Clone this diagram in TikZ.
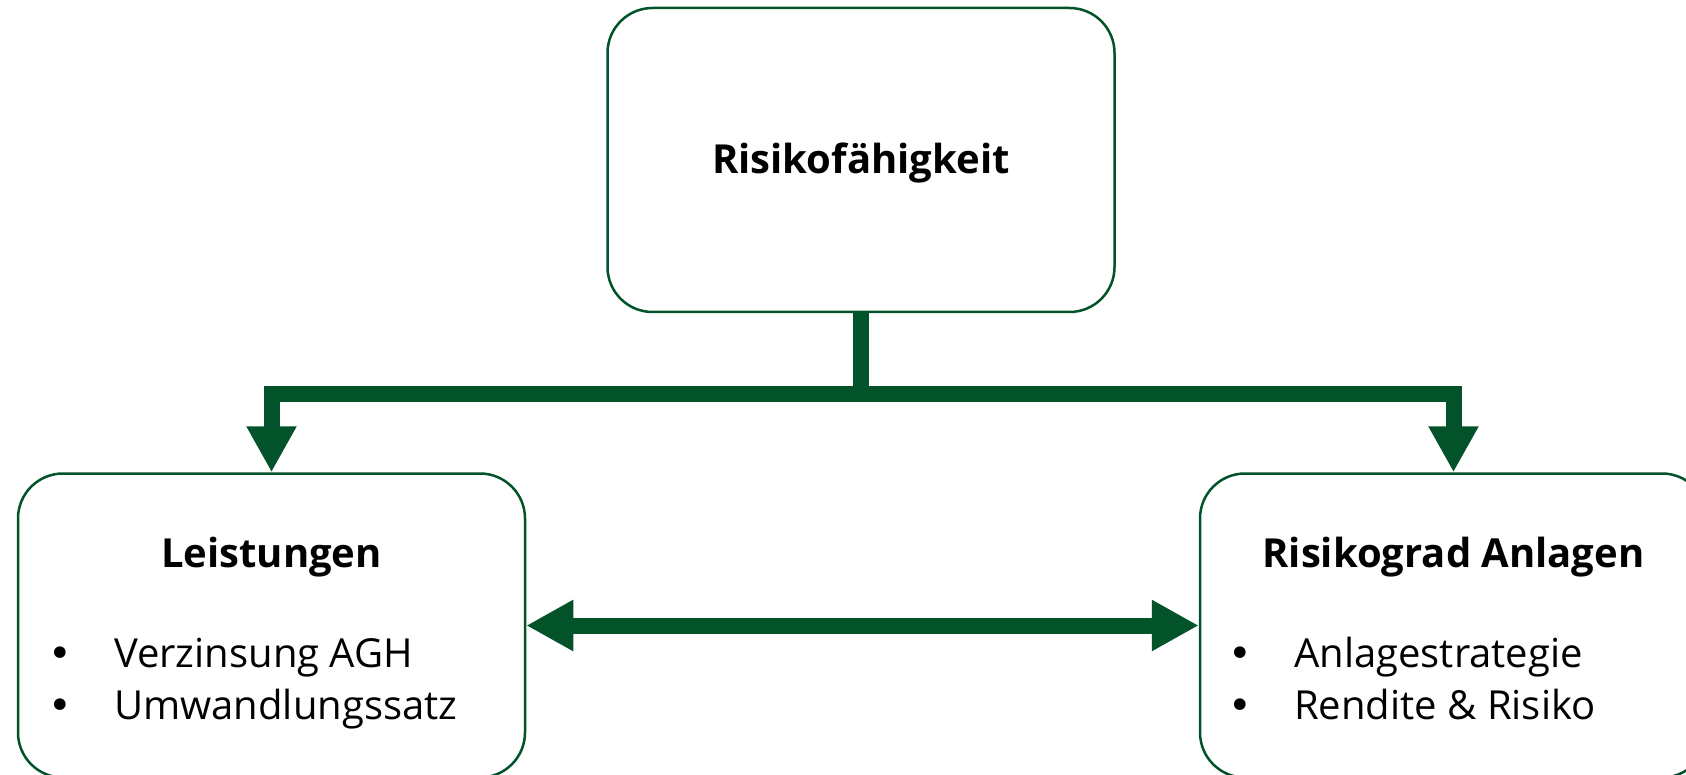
\documentclass[tikz,border=0pt]{standalone}
\usepackage{fontspec}
\setmainfont{Open Sans}
\newfontfamily\dotfont{DejaVu Sans}
\usepackage{tikz}
\usetikzlibrary{arrows.meta,shapes}
\definecolor{riskgreen}{RGB}{2,83,42}
\tikzstyle{box}=[draw=riskgreen,line width=2.5pt,rounded corners=45pt,minimum width=507pt,minimum height=304pt,inner sep=0pt]
\tikzstyle{head}=[font=\fontsize{40}{48}\selectfont\bfseries,anchor=base,inner sep=0pt]
\tikzstyle{entry}=[font=\fontsize{40}{48}\selectfont,anchor=base west,inner sep=0pt]
\tikzstyle{dot}=[font=\dotfont\fontsize{40}{48}\selectfont,anchor=base,inner sep=0pt]
\tikzstyle{edge}=[draw=riskgreen,line width=16pt]
\tikzstyle{arrow edge}=[edge,-{Triangle[width=47pt,length=46pt]}]
\tikzstyle{double edge}=[edge,{Triangle[width=48pt,length=47pt]}-{Triangle[width=48pt,length=47pt]}]

\begin{document}
\begin{tikzpicture}[x=1pt,y=-1pt]
    \useasboundingbox (0,0) rectangle (1686,775);
    \clip (0,0) rectangle (1686,775);
    % First we draw the boxes
    \foreach \pos/\name in {{(861,160)/risk}, {(271.5,625.5)/leist}, {(1453.5,625.5)/anlage}}
        \node[box] (\name) at \pos {};

    % Box titles
    \node[head] (riskTitle) at (861,174) {Risikofähigkeit};
    \foreach \pos/\name/\txt in {{(271.5,567)/leistTitle/Leistungen}, {(1453.5,567)/anlageTitle/Risikograd Anlagen}}
        \node[head] (\name) at \pos {\txt};

    % Bullet points
    \foreach \x/\y/\name/\txt in {60/667/verz/Verzinsung AGH, 60/719/umw/Umwandlungssatz, 1240/667/strat/Anlagestrategie, 1240/719/rend/Rendite \& Risiko}
    {
        \node[dot] (\name Dot) at (\x,\y) {•};
        \node[entry] (\name) at (\x+54,\y) {\txt};
    }

    % Connect boxes with arrows
    \coordinate (fork) at (861,394);
    \path[edge] (risk.south) -- (fork);
    \path[arrow edge] (fork) -| (leist.north);
    \path[arrow edge] (fork) -| (anlage.north);
    \path[double edge] (leist.east) -- (anlage.west);
\end{tikzpicture}
\end{document}
